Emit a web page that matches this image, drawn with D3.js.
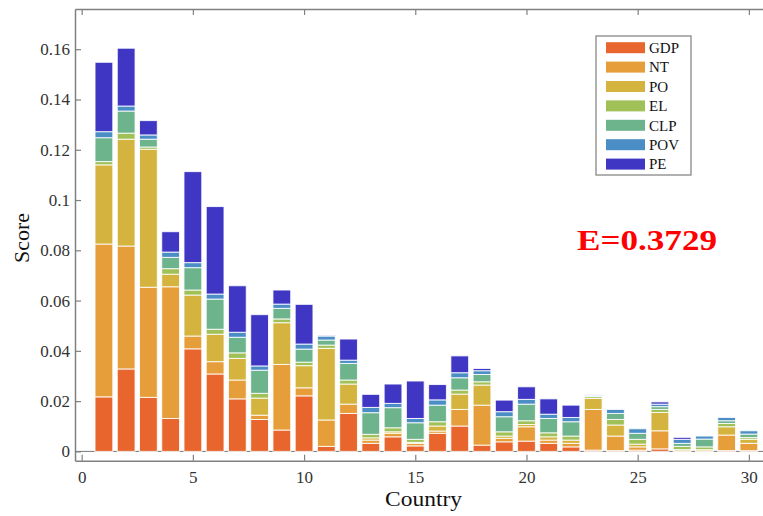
<!DOCTYPE html>
<html>
<head>
<meta charset="utf-8">
<script src="https://cdn.jsdelivr.net/npm/d3@7"></script>
<style>
  body { margin: 0; background: #fff; }
  text { font-family: "Liberation Serif", "DejaVu Serif", serif; }
</style>
</head>
<body>
<div id="chart"></div>
<script>
// values (segment heights, not cumulative)
const countries = d3.range(1, 31);
const seriesNames = ["GDP", "NT", "PO", "EL", "CLP", "POV", "PE"];
const colors = ["#E8662E", "#E59E3A", "#D4B33E", "#A0C058", "#6DB38C", "#4B8EC6", "#3F37C4"];

const GDP = [.0217,.0328,.0215,.0131,.0408,.0308,.0209,.0127,.0085,.0221,.002,.0151,.0032,.0058,.0022,.0072,.0101,.0025,.0038,.0041,.0032,.0018,.0005,.0003,.0005,.001,0,0,.0003,.0003];
const NT  = [.0608,.0489,.0438,.0524,.0051,.0049,.0075,.0017,.0261,.0032,.0105,.0037,.0013,.0014,.001,.0009,.0066,.0159,.0014,.0057,.0013,.0014,.0162,.0058,.0013,.0072,.0002,.0002,.0062,.0029];
const PO  = [.0315,.0425,.0549,.005,.0163,.0109,.0086,.0068,.0166,.0088,.0285,.008,.0009,.0006,.0004,.002,.0061,.008,.0009,.0009,.0013,.0013,.0044,.0044,.0011,.0073,.0005,.0005,.0033,.0016];
const EL  = [.0013,.0024,.0009,.0022,.002,.002,.0022,.0019,.0015,.0014,.0013,.0016,.0014,.0016,.0012,.0017,.0016,.0013,.0017,.0015,.0016,.0016,.0007,.0022,.0019,.0012,.0013,.0011,.0013,.0007];
const CLP = [.0095,.0088,.0031,.0045,.0089,.012,.0062,.0092,.0042,.0052,.002,.0066,.0086,.008,.0066,.0066,.0049,.0029,.006,.0066,.0057,.0057,.0004,.0024,.0024,.0011,.0012,.0031,.0011,.0014];
const POV = [.0024,.002,.0017,.0021,.002,.002,.002,.0017,.0017,.002,.0016,.0013,.0021,.0017,.0017,.0021,.002,.0015,.002,.0019,.0017,.0017,.0003,.0016,.0018,.001,.0016,.0012,.0013,.0013];
const PE  = [.0276,.023,.0057,.0081,.0362,.0348,.0185,.0204,.0056,.0158,.0003,.0084,.0052,.0077,.0149,.0061,.0067,.0009,.0046,.005,.0061,.0049,0,0,0,.0009,.0008,0,0,0];

const xTicks = [0, 5, 10, 15, 20, 25, 30];
const yTicks = [0, 0.02, 0.04, 0.06, 0.08, 0.1, 0.12, 0.14, 0.16];
const note = "E=0.3729";

const w = 763, h = 516;
const padLeft = 75, padTop = 9, axisY = 460.7;

const svg = d3.select("#chart").append("svg")
  .attr("width", w).attr("height", h);

const rows = countries.map((c, i) => ({
  country: c, GDP: GDP[i], NT: NT[i], PO: PO[i], EL: EL[i], CLP: CLP[i], POV: POV[i], PE: PE[i]
}));
const stacked = d3.stack().keys(seriesNames)(rows);

const xScale = d3.scaleLinear().domain([-0.3, 31]).range([padLeft, padLeft + 31.3 * 22.24]);
const yScale = d3.scaleLinear().domain([-0.0037, 0.176]).range([axisY, padTop]);
const color = d3.scaleOrdinal().domain(seriesNames).range(colors);
const bw = 0.8;

// baseline under the bars
svg.append("line")
  .attr("x1", padLeft).attr("x2", w)
  .attr("y1", yScale(0)).attr("y2", yScale(0))
  .attr("stroke", "#777").attr("stroke-width", 1);

svg.selectAll("g.layer")
  .data(stacked)
  .enter().append("g")
  .attr("class", "layer")
  .attr("fill", d => color(d.key))
  .selectAll("rect")
  .data(d => d)
  .enter().append("rect")
  .attr("x", d => xScale(d.data.country - bw / 2))
  .attr("width", xScale(bw) - xScale(0))
  .attr("y", d => yScale(d[1]))
  .attr("height", d => yScale(d[0]) - yScale(d[1]))
  .attr("stroke", "#fff")
  .attr("stroke-width", 1)
  .attr("stroke-opacity", 0.85);

// axes (inward ticks, MATLAB style)
const xAxis = d3.axisBottom(xScale).tickValues(xTicks).tickSizeInner(-6).tickSizeOuter(0).tickPadding(10);
const gx = svg.append("g").attr("transform", "translate(0," + axisY + ")").call(xAxis);

const xTop = d3.axisTop(xScale).tickValues(xTicks).tickSizeInner(-6).tickSizeOuter(0).tickFormat("");
const gt = svg.append("g").attr("transform", "translate(0," + padTop + ")").call(xTop);

const yAxis = d3.axisLeft(yScale).tickValues(yTicks).tickSizeInner(-6).tickSizeOuter(0).tickPadding(5)
  .tickFormat(d => d === 0 ? "0" : String(+d.toFixed(2)));
const gy = svg.append("g").attr("transform", "translate(" + padLeft + ",0)").call(yAxis);

[gx, gt, gy].forEach(g => {
  g.select(".domain").attr("stroke", "#808080").attr("stroke-width", 1.5);
  g.selectAll(".tick line").attr("stroke", "#808080").attr("stroke-width", 1.2);
  g.selectAll(".tick text").attr("fill", "#333").style("font-size", "17px")
    .style("font-family", "'Liberation Serif', serif");
});

// axis titles
svg.append("text")
  .attr("x", 385).attr("y", 506)
  .attr("textLength", 77).attr("lengthAdjust", "spacingAndGlyphs")
  .style("font-size", "22px").attr("fill", "#111")
  .text("Country");

svg.append("text")
  .attr("transform", "translate(29,263) rotate(-90)")
  .attr("textLength", 50).attr("lengthAdjust", "spacingAndGlyphs")
  .style("font-size", "21px").attr("fill", "#111")
  .text("Score");

// annotation
svg.append("text")
  .attr("x", 577).attr("y", 250)
  .attr("textLength", 140).attr("lengthAdjust", "spacingAndGlyphs")
  .style("font-size", "29px").style("font-weight", "bold")
  .attr("fill", "#FF0000")
  .text(note);

// legend
const legend = svg.append("g");
legend.append("rect")
  .attr("x", 596).attr("y", 36).attr("width", 95).attr("height", 139)
  .attr("fill", "#fff").attr("stroke", "#888").attr("stroke-width", 1.3);

const items = legend.selectAll("g.item")
  .data(seriesNames)
  .enter().append("g")
  .attr("class", "item")
  .attr("transform", (d, i) => "translate(606," + (47.7 + i * 19.4) + ")");

items.append("rect")
  .attr("x", 0).attr("y", -5.5).attr("width", 39).attr("height", 11)
  .attr("fill", d => color(d));

items.append("text")
  .attr("x", 43).attr("y", 0).attr("dy", "0.35em")
  .style("font-size", "15px").attr("fill", "#111")
  .text(d => d);
</script>
</body>
</html>
